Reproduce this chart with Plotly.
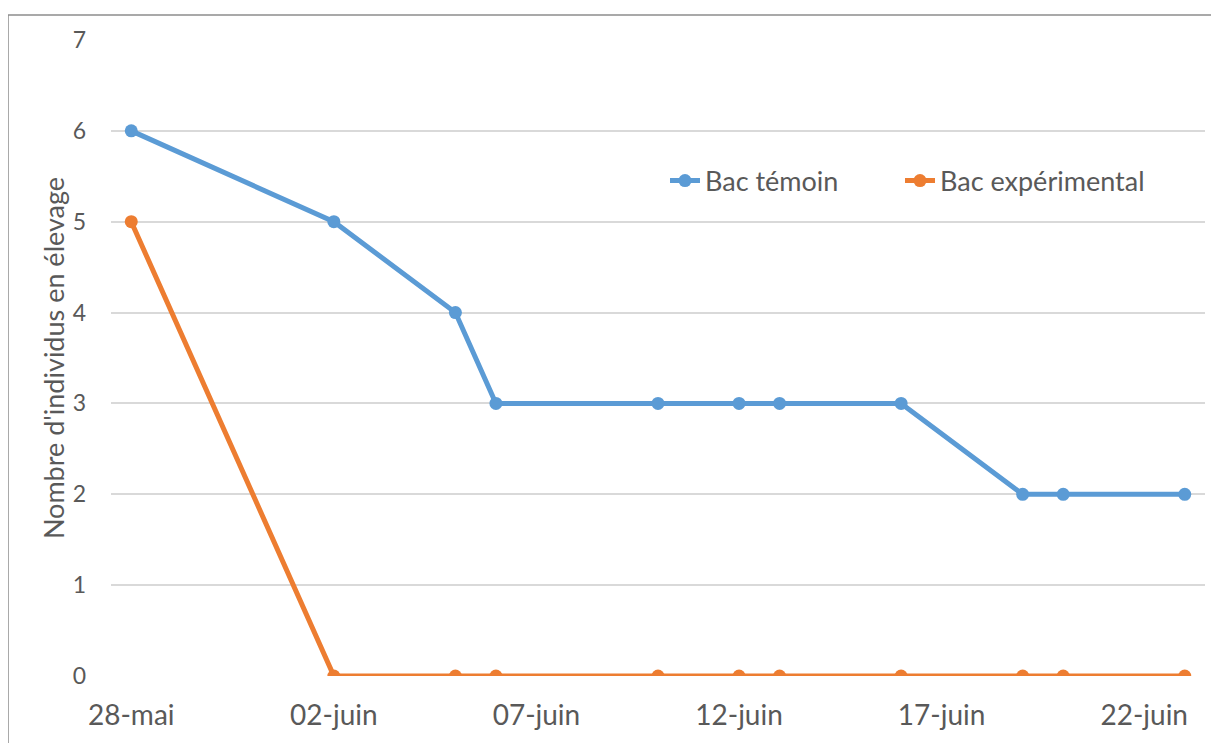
import plotly.graph_objects as go

dates = ["2015-05-28", "2015-06-02", "2015-06-05", "2015-06-06", "2015-06-10",
         "2015-06-12", "2015-06-13", "2015-06-16", "2015-06-19", "2015-06-20", "2015-06-23"]
bac_temoin = [6, 5, 4, 3, 3, 3, 3, 3, 2, 2, 2]
bac_experimental = [5, 0, 0, 0, 0, 0, 0, 0, 0, 0, 0]

tick_dates = ["2015-05-28", "2015-06-02", "2015-06-07", "2015-06-12", "2015-06-17", "2015-06-22"]
tick_labels = ["28-mai", "02-juin", "07-juin", "12-juin", "17-juin", "22-juin"]

FONT = "Lato"
GREY = "#595959"

fig = go.Figure()
fig.add_trace(go.Scatter(x=dates, y=bac_temoin, name="Bac témoin", mode="lines+markers",
                         line=dict(color="#5B9BD5", width=5), marker=dict(size=13, color="#5B9BD5"),
                         legend="legend"))
fig.add_trace(go.Scatter(x=dates, y=bac_experimental, name="Bac expérimental", mode="lines+markers",
                         line=dict(color="#ED7D31", width=5), marker=dict(size=13, color="#ED7D31"),
                         legend="legend2"))

OFF = 8  # page body margin
W, H = 1219 - 2 * OFF, 751 - 2 * OFF
L = 111 - OFF
T = 40 - OFF
R = W - (1205 - OFF)
B = H - (676 - OFF)
pw, ph = W - L - R, H - T - B

def px_x(x):
    return (x - OFF - L) / pw

def px_y(y):
    return (676 - y) / ph

leg_common = dict(orientation="h", yanchor="middle", xanchor="left",
                  font=dict(size=27, color=GREY), bgcolor="rgba(0,0,0,0)")

fig.update_layout(
    width=W, height=H,
    margin=dict(l=L, r=R, t=T, b=B),
    paper_bgcolor="white", plot_bgcolor="white",
    font=dict(family=FONT, color=GREY),
    showlegend=True,
    legend=dict(x=px_x(665), y=px_y(181), **leg_common),
    legend2=dict(x=px_x(900), y=px_y(181), **leg_common),
    xaxis=dict(type="date", range=["2015-05-27 12:00", "2015-06-23 12:00"],
               tickvals=tick_dates, ticktext=tick_labels, showgrid=False, zeroline=False,
               showline=False, ticks="", tickfont=dict(size=28, color=GREY), ticklabelstandoff=20),
    yaxis=dict(range=[0, 7], dtick=1, showgrid=True, gridcolor="#D9D9D9", gridwidth=1.5,
               zeroline=False, showline=False, ticks="", tickfont=dict(size=23, color=GREY),
               ticklabelstandoff=24,
               title=dict(text="Nombre d'individus en élevage", font=dict(size=27, color=GREY), standoff=0)),
    shapes=[
        dict(type="line", xref="paper", yref="paper", x0=px_x(8), x1=1.2, y0=px_y(15), y1=px_y(15),
             line=dict(color="#8C8C8C", width=1.5)),
        dict(type="line", xref="paper", yref="paper", x0=px_x(8), x1=px_x(8), y0=-0.3, y1=px_y(15),
             line=dict(color="#8C8C8C", width=1.5)),
    ],
)

fig.write_html("out.html")
